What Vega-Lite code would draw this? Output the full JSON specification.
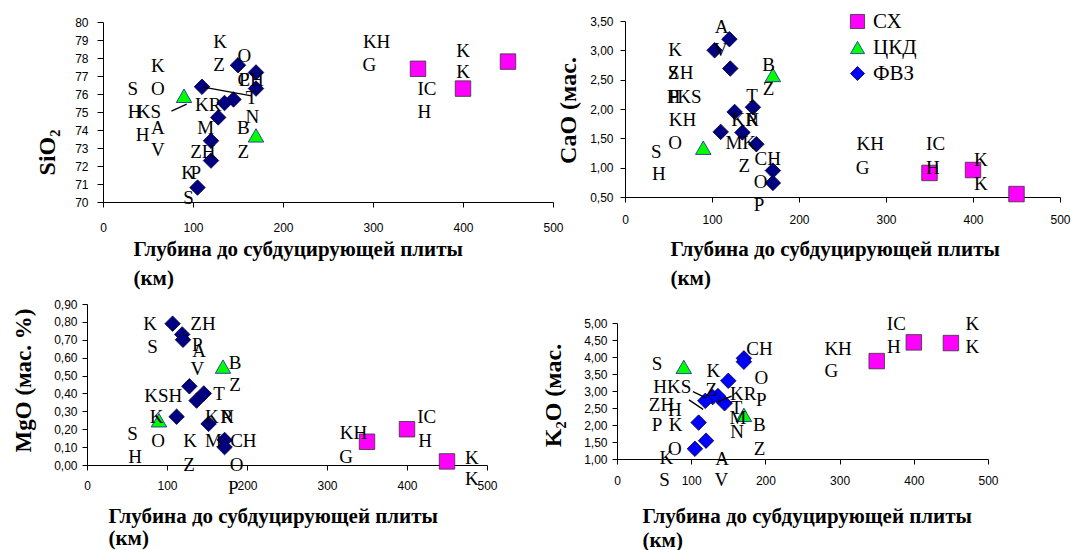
{
 "$schema": "https://vega.github.io/schema/vega-lite/v6.json",
 "width": 1073, "height": 550, "padding": 0, "autosize": {"type": "none"},
 "background": "white",
 "config": {
  "view": {"stroke": null},
  "axis": {"grid": false, "domainColor": "#000", "tickColor": "#000", "labelColor": "#000", "labelFont": "Liberation Sans", "labelFontSize": 12, "titleFont": "Liberation Serif", "titleFontWeight": "bold", "titleColor": "#000", "tickSize": 5, "labelOverlap": false, "labelFlush": false, "domainWidth": 1, "tickWidth": 1},
  "text": {"font": "Liberation Serif", "fontSize": 19, "color": "#000", "align": "center", "baseline": "middle"},
  "legend": {"orient": "none", "legendX": 847, "legendY": 11, "title": null, "labelFont": "Liberation Serif", "labelFontSize": 21, "labelColor": "#000", "symbolSize": 200, "rowPadding": 4, "labelOffset": 5, "padding": 0, "symbolStrokeWidth": 0.8}
 },
 "datasets": {
  "pts": [
   {"p":1,"x":110,"y":76.4,"g":"ФВЗ"},{"p":1,"x":150,"y":77.6,"g":"ФВЗ"},{"p":1,"x":170,"y":77.2,"g":"ФВЗ"},{"p":1,"x":170,"y":76.3,"g":"ФВЗ"},{"p":1,"x":145,"y":75.7,"g":"ФВЗ"},{"p":1,"x":135,"y":75.5,"g":"ФВЗ"},{"p":1,"x":128,"y":74.7,"g":"ФВЗ"},{"p":1,"x":120,"y":73.4,"g":"ФВЗ"},{"p":1,"x":120,"y":72.3,"g":"ФВЗ"},{"p":1,"x":105,"y":70.8,"g":"ФВЗ"},
   {"p":1,"x":90,"y":75.9,"g":"ЦКД"},{"p":1,"x":170,"y":73.7,"g":"ЦКД"},
   {"p":1,"x":350,"y":77.4,"g":"СХ"},{"p":1,"x":400,"y":76.3,"g":"СХ"},{"p":1,"x":450,"y":77.8,"g":"СХ"},
   {"p":2,"x":120,"y":3.19,"g":"ФВЗ"},{"p":2,"x":103,"y":3.0,"g":"ФВЗ"},{"p":2,"x":121,"y":2.69,"g":"ФВЗ"},{"p":2,"x":126,"y":1.95,"g":"ФВЗ"},{"p":2,"x":147,"y":2.03,"g":"ФВЗ"},{"p":2,"x":110,"y":1.61,"g":"ФВЗ"},{"p":2,"x":135,"y":1.6,"g":"ФВЗ"},{"p":2,"x":151,"y":1.4,"g":"ФВЗ"},{"p":2,"x":170,"y":0.95,"g":"ФВЗ"},{"p":2,"x":170,"y":0.74,"g":"ФВЗ"},
   {"p":2,"x":90,"y":1.34,"g":"ЦКД"},{"p":2,"x":170,"y":2.58,"g":"ЦКД"},
   {"p":2,"x":350,"y":0.91,"g":"СХ"},{"p":2,"x":400,"y":0.96,"g":"СХ"},{"p":2,"x":450,"y":0.55,"g":"СХ"},
   {"p":3,"x":107,"y":0.79,"g":"ФВЗ"},{"p":3,"x":119,"y":0.73,"g":"ФВЗ"},{"p":3,"x":120,"y":0.7,"g":"ФВЗ"},{"p":3,"x":128,"y":0.44,"g":"ФВЗ"},{"p":3,"x":146,"y":0.4,"g":"ФВЗ"},{"p":3,"x":137,"y":0.36,"g":"ФВЗ"},{"p":3,"x":112,"y":0.27,"g":"ФВЗ"},{"p":3,"x":152,"y":0.23,"g":"ФВЗ"},{"p":3,"x":172,"y":0.14,"g":"ФВЗ"},{"p":3,"x":172,"y":0.1,"g":"ФВЗ"},
   {"p":3,"x":90,"y":0.25,"g":"ЦКД"},{"p":3,"x":170,"y":0.55,"g":"ЦКД"},
   {"p":3,"x":350,"y":0.13,"g":"СХ"},{"p":3,"x":400,"y":0.2,"g":"СХ"},{"p":3,"x":450,"y":0.02,"g":"СХ"},
   {"p":4,"x":171,"y":3.96,"g":"ФВЗ"},{"p":4,"x":171,"y":3.86,"g":"ФВЗ"},{"p":4,"x":150,"y":3.3,"g":"ФВЗ"},{"p":4,"x":145,"y":2.64,"g":"ФВЗ"},{"p":4,"x":136,"y":2.85,"g":"ФВЗ"},{"p":4,"x":129,"y":2.82,"g":"ФВЗ"},{"p":4,"x":119,"y":2.71,"g":"ФВЗ"},{"p":4,"x":110,"y":2.07,"g":"ФВЗ"},{"p":4,"x":120,"y":1.54,"g":"ФВЗ"},{"p":4,"x":105,"y":1.3,"g":"ФВЗ"},
   {"p":4,"x":90,"y":3.71,"g":"ЦКД"},{"p":4,"x":171,"y":2.3,"g":"ЦКД"},
   {"p":4,"x":350,"y":3.88,"g":"СХ"},{"p":4,"x":400,"y":4.43,"g":"СХ"},{"p":4,"x":450,"y":4.41,"g":"СХ"}
  ],
  "lbl": [
   {"p":1,"x":61,"y":77.57,"t":"K"},{"p":1,"x":33,"y":76.3,"t":"S"},{"p":1,"x":61,"y":76.3,"t":"O"},{"p":1,"x":35,"y":75.0,"t":"H"},{"p":1,"x":51,"y":75.0,"t":"KS"},{"p":1,"x":61,"y":74.1,"t":"A"},{"p":1,"x":44,"y":73.7,"t":"H"},{"p":1,"x":61,"y":72.9,"t":"V"},
   {"p":1,"x":130,"y":78.9,"t":"K"},{"p":1,"x":129,"y":77.6,"t":"Z"},{"p":1,"x":157,"y":78.1,"t":"O"},{"p":1,"x":164,"y":76.8,"t":"CH"},{"p":1,"x":157,"y":76.8,"t":"P"},{"p":1,"x":165,"y":75.8,"t":"T"},{"p":1,"x":117,"y":75.4,"t":"KR"},{"p":1,"x":166,"y":74.7,"t":"N"},{"p":1,"x":114,"y":74.1,"t":"M"},{"p":1,"x":156,"y":74.1,"t":"B"},{"p":1,"x":111,"y":72.8,"t":"ZH"},{"p":1,"x":156,"y":72.8,"t":"Z"},{"p":1,"x":94.5,"y":71.6,"t":"K"},{"p":1,"x":103,"y":71.6,"t":"P"},{"p":1,"x":95,"y":70.2,"t":"S"},
   {"p":1,"x":304,"y":78.9,"t":"KH"},{"p":1,"x":296,"y":77.6,"t":"G"},{"p":1,"x":400,"y":78.4,"t":"K"},{"p":1,"x":400,"y":77.2,"t":"K"},{"p":1,"x":360,"y":76.3,"t":"IC"},{"p":1,"x":357,"y":75.0,"t":"H"},
   {"p":2,"x":111,"y":3.4,"t":"A"},{"p":2,"x":110,"y":3.0,"t":"V"},{"p":2,"x":57.5,"y":3.0,"t":"K"},{"p":2,"x":55.5,"y":2.62,"t":"S"},{"p":2,"x":64,"y":2.62,"t":"ZH"},{"p":2,"x":56,"y":2.21,"t":"H"},{"p":2,"x":56,"y":2.21,"t":"P"},{"p":2,"x":74,"y":2.21,"t":"KS"},{"p":2,"x":66,"y":1.81,"t":"KH"},{"p":2,"x":57.5,"y":1.42,"t":"O"},{"p":2,"x":36,"y":1.26,"t":"S"},{"p":2,"x":39,"y":0.89,"t":"H"},
   {"p":2,"x":165,"y":2.75,"t":"B"},{"p":2,"x":165,"y":2.34,"t":"Z"},{"p":2,"x":146,"y":2.23,"t":"T"},{"p":2,"x":130,"y":1.82,"t":"K"},{"p":2,"x":146,"y":1.82,"t":"N"},{"p":2,"x":146,"y":1.82,"t":"R"},{"p":2,"x":133,"y":1.42,"t":"MK"},{"p":2,"x":164,"y":1.14,"t":"CH"},{"p":2,"x":137,"y":1.03,"t":"Z"},{"p":2,"x":156,"y":0.76,"t":"O"},{"p":2,"x":154,"y":0.36,"t":"P"},
   {"p":2,"x":282,"y":1.4,"t":"KH"},{"p":2,"x":273,"y":1.0,"t":"G"},{"p":2,"x":357,"y":1.4,"t":"IC"},{"p":2,"x":354,"y":1.0,"t":"H"},{"p":2,"x":409,"y":1.13,"t":"K"},{"p":2,"x":409,"y":0.73,"t":"K"},
   {"p":3,"x":79,"y":0.79,"t":"K"},{"p":3,"x":145,"y":0.79,"t":"ZH"},{"p":3,"x":82,"y":0.657,"t":"S"},{"p":3,"x":138,"y":0.67,"t":"P"},{"p":3,"x":140,"y":0.64,"t":"A"},{"p":3,"x":138,"y":0.535,"t":"V"},{"p":3,"x":185,"y":0.57,"t":"B"},{"p":3,"x":185,"y":0.45,"t":"Z"},{"p":3,"x":95.4,"y":0.386,"t":"KSH"},{"p":3,"x":165,"y":0.396,"t":"T"},{"p":3,"x":87,"y":0.27,"t":"K"},{"p":3,"x":156,"y":0.27,"t":"K"},{"p":3,"x":175,"y":0.27,"t":"N"},{"p":3,"x":175,"y":0.27,"t":"R"},{"p":3,"x":57,"y":0.174,"t":"S"},{"p":3,"x":89,"y":0.136,"t":"O"},{"p":3,"x":129,"y":0.136,"t":"K"},{"p":3,"x":158,"y":0.136,"t":"M"},{"p":3,"x":195.5,"y":0.136,"t":"CH"},{"p":3,"x":60,"y":0.043,"t":"H"},{"p":3,"x":127.5,"y":0.0,"t":"Z"},{"p":3,"x":187,"y":0.0,"t":"O"},{"p":3,"x":183,"y":-0.13,"t":"P"},
   {"p":3,"x":333,"y":0.177,"t":"KH"},{"p":3,"x":324,"y":0.046,"t":"G"},{"p":3,"x":424.6,"y":0.267,"t":"IC"},{"p":3,"x":422.5,"y":0.134,"t":"H"},{"p":3,"x":481,"y":0.037,"t":"K"},{"p":3,"x":481,"y":-0.078,"t":"K"},
   {"p":4,"x":54,"y":3.79,"t":"S"},{"p":4,"x":130,"y":3.59,"t":"K"},{"p":4,"x":192,"y":4.25,"t":"CH"},{"p":4,"x":194.6,"y":3.37,"t":"O"},{"p":4,"x":74.5,"y":3.13,"t":"HKS"},{"p":4,"x":127,"y":3.03,"t":"Z"},{"p":4,"x":170,"y":2.9,"t":"KR"},{"p":4,"x":60,"y":2.59,"t":"ZH"},{"p":4,"x":78,"y":2.44,"t":"H"},{"p":4,"x":194.6,"y":2.74,"t":"P"},{"p":4,"x":161,"y":2.49,"t":"T"},{"p":4,"x":163,"y":2.2,"t":"M"},{"p":4,"x":54,"y":2.0,"t":"P"},{"p":4,"x":79,"y":2.0,"t":"K"},{"p":4,"x":192,"y":2.0,"t":"B"},{"p":4,"x":162,"y":1.79,"t":"N"},{"p":4,"x":78,"y":1.3,"t":"O"},{"p":4,"x":192,"y":1.3,"t":"Z"},{"p":4,"x":66.5,"y":1.03,"t":"K"},{"p":4,"x":141.5,"y":1.01,"t":"A"},{"p":4,"x":64,"y":0.39,"t":"S"},{"p":4,"x":140.7,"y":0.39,"t":"V"},
   {"p":4,"x":376.5,"y":4.98,"t":"IC"},{"p":4,"x":373,"y":4.28,"t":"H"},{"p":4,"x":479,"y":4.98,"t":"K"},{"p":4,"x":479,"y":4.28,"t":"K"},{"p":4,"x":298,"y":4.25,"t":"KH"},{"p":4,"x":289,"y":3.59,"t":"G"}
  ],
  "seg": [
   {"p":1,"x":110,"y":76.4,"x2":165,"y2":75.9},{"p":1,"x":76,"y":75.05,"x2":93,"y2":75.44},
   {"p":4,"x":102.4,"y":2.98,"x2":120.5,"y2":2.79},{"p":4,"x":97,"y":2.74,"x2":116,"y2":2.46},{"p":4,"x":135.7,"y":2.68,"x2":154.6,"y2":2.85}
  ]
 },
 "resolve": {"scale": {"x": "independent", "y": "independent"}},
 "layer": [
  {"layer": [
   {"data": {"name": "pts"}, "transform": [{"filter": "datum.p==1"}], "mark": {"type": "point", "filled": true, "size": 240, "opacity": 1, "strokeWidth": 0.8},
    "encoding": {"x": {"field": "x", "type": "quantitative", "scale": {"domain": [0,500], "range": [103,553], "nice": false, "zero": false},
      "axis": {"orient": "bottom", "offset": -348, "values": [0,100,200,300,400,500], "labelPadding": 15, "title": ["Глубина до субдуцирующей плиты", "(км)"], "titleX": 133, "titleY": 53, "titleAlign": "left", "titleBaseline": "alphabetic", "titleLineHeight": 29, "titleFontSize": 21}},
     "y": {"field": "y", "type": "quantitative", "scale": {"domain": [70,80], "range": [202,22], "nice": false, "zero": false},
      "axis": {"orient": "left", "offset": -103, "values": [70,71,72,73,74,75,76,77,78,79,80], "labelPadding": 9, "tickSize": 6, "title": "SiO₂", "titleX": -56, "titleY": 152, "titleAngle": -90, "titleAlign": "center", "titleBaseline": "middle", "titleFontSize": 24}},
     "shape": {"field": "g", "type": "nominal", "scale": {"domain": ["СХ","ЦКД","ФВЗ"], "range": ["square","triangle-up","diamond"]}},
     "fill": {"field": "g", "type": "nominal", "scale": {"domain": ["СХ","ЦКД","ФВЗ"], "range": ["#ff00ff","#00ff00","#0000ff"]}, "condition": {"test": "datum.g==='ФВЗ'", "value": "#000080"}},
     "stroke": {"field": "g", "type": "nominal", "scale": {"domain": ["СХ","ЦКД","ФВЗ"], "range": ["#333333","#1a1aaa","#000033"]}}}},
   {"data": {"name": "lbl"}, "transform": [{"filter": "datum.p==1"}], "mark": {"type": "text"},
    "encoding": {"x": {"field": "x", "type": "quantitative", "scale": {"domain": [0,500], "range": [103,553], "nice": false, "zero": false}},
     "y": {"field": "y", "type": "quantitative", "scale": {"domain": [70,80], "range": [202,22], "nice": false, "zero": false}},
     "text": {"field": "t"}}},
   {"data": {"name": "seg"}, "transform": [{"filter": "datum.p==1"}], "mark": {"type": "rule", "color": "#000", "strokeWidth": 1.3},
    "encoding": {"x": {"field": "x", "type": "quantitative", "scale": {"domain": [0,500], "range": [103,553], "nice": false, "zero": false}},
     "y": {"field": "y", "type": "quantitative", "scale": {"domain": [70,80], "range": [202,22], "nice": false, "zero": false}},
     "x2": {"field": "x2"}, "y2": {"field": "y2"}}}
  ]},
  {"layer": [
   {"data": {"name": "pts"}, "transform": [{"filter": "datum.p==2"}], "mark": {"type": "point", "filled": true, "size": 240, "opacity": 1, "strokeWidth": 0.8},
    "encoding": {"x": {"field": "x", "type": "quantitative", "scale": {"domain": [0,500], "range": [625,1060], "nice": false, "zero": false},
      "axis": {"orient": "bottom", "offset": -353, "values": [0,100,200,300,400,500], "labelPadding": 12, "title": ["Глубина до субдуцирующей плиты", "(км)"], "titleX": 670, "titleY": 58, "titleAlign": "left", "titleBaseline": "alphabetic", "titleLineHeight": 29, "titleFontSize": 21}},
     "y": {"field": "y", "type": "quantitative", "scale": {"domain": [0.5,3.5], "range": [197,21], "nice": false, "zero": false},
      "axis": {"orient": "left", "offset": -625, "values": [0.5,1,1.5,2,2.5,3,3.5], "labelPadding": 7, "labelExpr": "replace(format(datum.value,'.2f'),'.',',')", "title": "CaO (мас.", "titleX": -57, "titleY": 110, "titleAngle": -90, "titleAlign": "center", "titleBaseline": "middle", "titleFontSize": 24}},
     "shape": {"field": "g", "type": "nominal", "scale": {"domain": ["СХ","ЦКД","ФВЗ"], "range": ["square","triangle-up","diamond"]}},
     "fill": {"field": "g", "type": "nominal", "scale": {"domain": ["СХ","ЦКД","ФВЗ"], "range": ["#ff00ff","#00ff00","#0000ff"]}, "condition": {"test": "datum.g==='ФВЗ'", "value": "#000080"}},
     "stroke": {"field": "g", "type": "nominal", "scale": {"domain": ["СХ","ЦКД","ФВЗ"], "range": ["#333333","#1a1aaa","#000033"]}}}},
   {"data": {"name": "lbl"}, "transform": [{"filter": "datum.p==2"}], "mark": {"type": "text"},
    "encoding": {"x": {"field": "x", "type": "quantitative", "scale": {"domain": [0,500], "range": [625,1060], "nice": false, "zero": false}},
     "y": {"field": "y", "type": "quantitative", "scale": {"domain": [0.5,3.5], "range": [197,21], "nice": false, "zero": false}},
     "text": {"field": "t"}}}
  ]},
  {"layer": [
   {"data": {"name": "pts"}, "transform": [{"filter": "datum.p==3"}], "mark": {"type": "point", "filled": true, "size": 240, "opacity": 1, "strokeWidth": 0.8},
    "encoding": {"x": {"field": "x", "type": "quantitative", "scale": {"domain": [0,500], "range": [87,487], "nice": false, "zero": false},
      "axis": {"orient": "bottom", "offset": -85, "values": [0,100,200,300,400,500], "labelPadding": 10, "title": ["Глубина до субдуцирующей плиты", "(км)"], "titleX": 108, "titleY": 57, "titleAlign": "left", "titleBaseline": "alphabetic", "titleLineHeight": 22, "titleFontSize": 21}},
     "y": {"field": "y", "type": "quantitative", "scale": {"domain": [0,0.9], "range": [465,304], "nice": false, "zero": false},
      "axis": {"orient": "left", "offset": -87, "values": [0,0.1,0.2,0.3,0.4,0.5,0.6,0.7,0.8,0.9], "labelPadding": 5, "labelExpr": "replace(format(datum.value,'.2f'),'.',',')", "title": "MgO  (мас. %)", "titleX": -64, "titleY": 380, "titleAngle": -90, "titleAlign": "center", "titleBaseline": "middle", "titleFontSize": 23}},
     "shape": {"field": "g", "type": "nominal", "scale": {"domain": ["СХ","ЦКД","ФВЗ"], "range": ["square","triangle-up","diamond"]}},
     "fill": {"field": "g", "type": "nominal", "scale": {"domain": ["СХ","ЦКД","ФВЗ"], "range": ["#ff00ff","#00ff00","#0000ff"]}, "condition": {"test": "datum.g==='ФВЗ'", "value": "#000080"}},
     "stroke": {"field": "g", "type": "nominal", "scale": {"domain": ["СХ","ЦКД","ФВЗ"], "range": ["#333333","#1a1aaa","#000033"]}}}},
   {"data": {"name": "lbl"}, "transform": [{"filter": "datum.p==3"}], "mark": {"type": "text"},
    "encoding": {"x": {"field": "x", "type": "quantitative", "scale": {"domain": [0,500], "range": [87,487], "nice": false, "zero": false}},
     "y": {"field": "y", "type": "quantitative", "scale": {"domain": [0,0.9], "range": [465,304], "nice": false, "zero": false}},
     "text": {"field": "t"}}}
  ]},
  {"layer": [
   {"data": {"name": "pts"}, "transform": [{"filter": "datum.p==4"}], "mark": {"type": "point", "filled": true, "size": 240, "opacity": 1, "strokeWidth": 0.8},
    "encoding": {"x": {"field": "x", "type": "quantitative", "scale": {"domain": [0,500], "range": [617,988], "nice": false, "zero": false},
      "axis": {"orient": "bottom", "offset": -91, "values": [0,100,200,300,400,500], "labelPadding": 11, "title": ["Глубина до субдуцирующей плиты", "(км)"], "titleX": 642, "titleY": 63, "titleAlign": "left", "titleBaseline": "alphabetic", "titleLineHeight": 24, "titleFontSize": 21}},
     "y": {"field": "y", "type": "quantitative", "scale": {"domain": [1,5], "range": [459,323], "nice": false, "zero": false},
      "axis": {"orient": "left", "offset": -617, "values": [1,1.5,2,2.5,3,3.5,4,4.5,5], "labelPadding": 5, "labelExpr": "replace(format(datum.value,'.2f'),'.',',')", "title": "K₂O (мас.", "titleX": -64, "titleY": 395, "titleAngle": -90, "titleAlign": "center", "titleBaseline": "middle", "titleFontSize": 24}},
     "shape": {"field": "g", "type": "nominal", "scale": {"domain": ["СХ","ЦКД","ФВЗ"], "range": ["square","triangle-up","diamond"]}},
     "fill": {"field": "g", "type": "nominal", "scale": {"domain": ["СХ","ЦКД","ФВЗ"], "range": ["#ff00ff","#00ff00","#0000ff"]}},
     "stroke": {"field": "g", "type": "nominal", "scale": {"domain": ["СХ","ЦКД","ФВЗ"], "range": ["#333333","#1a1aaa","#000033"]}}}},
   {"data": {"name": "lbl"}, "transform": [{"filter": "datum.p==4"}], "mark": {"type": "text"},
    "encoding": {"x": {"field": "x", "type": "quantitative", "scale": {"domain": [0,500], "range": [617,988], "nice": false, "zero": false}},
     "y": {"field": "y", "type": "quantitative", "scale": {"domain": [1,5], "range": [459,323], "nice": false, "zero": false}},
     "text": {"field": "t"}}},
   {"data": {"name": "seg"}, "transform": [{"filter": "datum.p==4"}], "mark": {"type": "rule", "color": "#000", "strokeWidth": 1.3},
    "encoding": {"x": {"field": "x", "type": "quantitative", "scale": {"domain": [0,500], "range": [617,988], "nice": false, "zero": false}},
     "y": {"field": "y", "type": "quantitative", "scale": {"domain": [1,5], "range": [459,323], "nice": false, "zero": false}},
     "x2": {"field": "x2"}, "y2": {"field": "y2"}}}
  ]}
 ]
}
